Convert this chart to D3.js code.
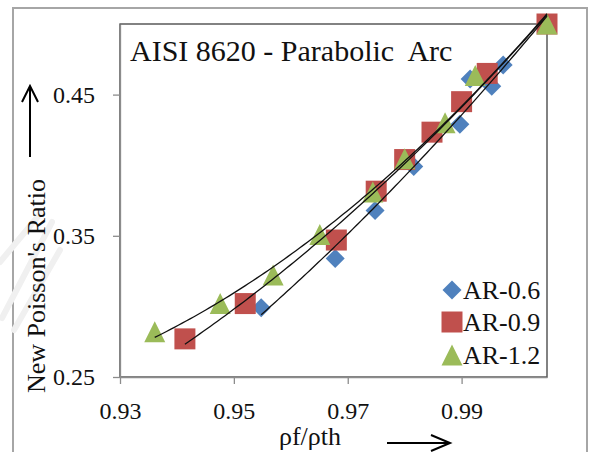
<!DOCTYPE html>
<html>
<head>
<meta charset="utf-8">
<script src="https://cdn.jsdelivr.net/npm/d3@7"></script>
<style>
  html, body { margin: 0; padding: 0; background: #fff; }
  svg { display: block; }
</style>
</head>
<body>
<svg id="chart" width="589" height="452"></svg>
<script>
// Relative density (ρf/ρth) vs new Poisson's ratio, three aspect ratios
const seriesNames = ["AR-0.6", "AR-0.9", "AR-1.2"];
const ar06X = [0.9548, 0.9678, 0.9748, 0.9816, 0.9897, 0.9915, 0.9953, 0.9973, 1.005];
const ar06Y = [0.299, 0.334, 0.368, 0.399, 0.429, 0.461, 0.456, 0.471, 0.500];
const ar09X = [0.9414, 0.952, 0.968, 0.975, 0.980, 0.9848, 0.990, 0.9945, 1.005];
const ar09Y = [0.277, 0.302, 0.347, 0.3816, 0.404, 0.4234, 0.445, 0.465, 0.500];
const ar12X = [0.9361, 0.9476, 0.9569, 0.9651, 0.9744, 0.980, 0.9871, 0.9924, 1.005];
const ar12Y = [0.282, 0.302, 0.3223, 0.351, 0.381, 0.4046, 0.430, 0.4635, 0.500];
const xTicks = [0.93, 0.95, 0.97, 0.99];
const yTicks = [0.25, 0.35, 0.45];
const colors = ["#4F81BD", "#C0504D", "#9BBB59"];
const shapes = ["diamond", "square", "triangle"];

const FONT = "Liberation Serif, Tinos, Noto Serif, DejaVu Serif, Times New Roman, Times, serif";
const svg = d3.select("#chart");
const plot = { left: 120, right: 547, top: 24, bottom: 377 };

const x = d3.scaleLinear().domain([0.93, 1.005]).range([plot.left, plot.right]);
const y = d3.scaleLinear().domain([0.25, 0.50]).range([plot.bottom, plot.top]);

// outer chart frame
svg.append("rect")
  .attr("x", 13).attr("y", 8).attr("width", 574).attr("height", 470)
  .attr("fill", "#fff").attr("stroke", "#a6a6a6").attr("stroke-width", 2);

// faint background mark on the left margin
svg.append("path")
  .attr("d", "M2,318L52,222M14,330L60,250M0,262L40,214")
  .attr("fill", "none").attr("stroke", "#f0f0f0").attr("stroke-width", 6)
  .attr("stroke-linecap", "round");

// plot area border
svg.append("rect")
  .attr("x", plot.left).attr("y", plot.top)
  .attr("width", plot.right - plot.left).attr("height", plot.bottom - plot.top)
  .attr("fill", "#fff").attr("stroke", "#404040").attr("stroke-width", 1.3);

// axes
const axisColor = "#8c8c8c";
const yAxis = svg.append("g")
  .attr("transform", `translate(${plot.left},0)`)
  .call(d3.axisLeft(y).tickValues(yTicks).tickFormat(d3.format(".2f"))
    .tickSize(7).tickSizeOuter(0).tickPadding(18));
const xAxis = svg.append("g")
  .attr("transform", `translate(0,${plot.bottom})`)
  .call(d3.axisBottom(x).tickValues(xTicks).tickFormat(d3.format(".2f"))
    .tickSize(7).tickSizeOuter(0).tickPadding(18));
[yAxis, xAxis].forEach(g => {
  g.attr("font-family", FONT).attr("font-size", 24);
  g.select(".domain").attr("stroke", axisColor).attr("stroke-width", 1.3);
  g.selectAll(".tick line").attr("stroke", axisColor).attr("stroke-width", 1.3);
  g.selectAll(".tick text").attr("fill", "#111");
});

// quadratic least-squares trendline
function quadFit(xs, ys) {
  const n = xs.length;
  const s = [0, 0, 0, 0, 0], t = [0, 0, 0];
  for (let i = 0; i < n; i++) {
    const xv = xs[i];
    for (let k = 0; k <= 4; k++) s[k] += Math.pow(xv, k);
    for (let k = 0; k <= 2; k++) t[k] += ys[i] * Math.pow(xv, k);
  }
  const A = [[s[0], s[1], s[2], t[0]], [s[1], s[2], s[3], t[1]], [s[2], s[3], s[4], t[2]]];
  for (let c = 0; c < 3; c++) {
    let p = c;
    for (let r = c + 1; r < 3; r++) if (Math.abs(A[r][c]) > Math.abs(A[p][c])) p = r;
    [A[c], A[p]] = [A[p], A[c]];
    for (let r = 0; r < 3; r++) {
      if (r === c) continue;
      const f = A[r][c] / A[c][c];
      for (let k = c; k < 4; k++) A[r][k] -= f * A[c][k];
    }
  }
  const coef = [A[0][3] / A[0][0], A[1][3] / A[1][1], A[2][3] / A[2][2]];
  return v => coef[0] + coef[1] * v + coef[2] * v * v;
}

const data = [
  { xs: ar06X, ys: ar06Y },
  { xs: ar09X, ys: ar09Y },
  { xs: ar12X, ys: ar12Y }
];

// marker paths centered on the data point
function markerPath(shape) {
  if (shape === "diamond") { const r = 9.5; return `M0,${-r}L${r},0L0,${r}L${-r},0Z`; }
  if (shape === "square") { const h = 10.5; return `M${-h},${-h}H${h}V${h}H${-h}Z`; }
  const w = 10.5, h = 10.5; return `M0,${-h}L${w},${h}L${-w},${h}Z`;
}

data.forEach((s, i) => {
  svg.append("g").selectAll("path")
    .data(s.xs.map((v, j) => [v, s.ys[j]]))
    .join("path")
    .attr("d", markerPath(shapes[i]))
    .attr("transform", d => `translate(${x(d[0])},${y(d[1])})`)
    .attr("fill", colors[i]);
});

// trendlines over the markers
const line = d3.line().x(d => x(d[0])).y(d => y(d[1]));
data.forEach(s => {
  const f = quadFit(s.xs, s.ys);
  const [lo, hi] = d3.extent(s.xs);
  const pts = d3.range(0, 101).map(i => {
    const v = lo + (hi - lo) * i / 100;
    return [v, f(v)];
  });
  svg.append("path").attr("d", line(pts))
    .attr("fill", "none").attr("stroke", "#111").attr("stroke-width", 1.3);
});

// title
svg.append("text").attr("x", 130).attr("y", 61)
  .attr("font-family", FONT).attr("font-size", 30).attr("fill", "#111")
  .attr("xml:space", "preserve")
  .text("AISI 8620 - Parabolic  Arc");

// legend
const legendRows = [290, 322, 355];
seriesNames.forEach((name, i) => {
  svg.append("path").attr("d", markerPath(shapes[i]))
    .attr("transform", `translate(452,${legendRows[i]})`)
    .attr("fill", colors[i]);
  svg.append("text").attr("x", 463).attr("y", legendRows[i] + 9)
    .attr("font-family", FONT).attr("font-size", 26).attr("fill", "#111").text(name);
});

// axis titles with direction arrows
svg.append("text").attr("x", 310).attr("y", 445).attr("text-anchor", "middle")
  .attr("font-family", FONT).attr("font-size", 26).attr("fill", "#111").text("ρf/ρth");
svg.append("path").attr("d", "M387,443H450M431,435L450,443L431,451")
  .attr("fill", "none").attr("stroke", "#000").attr("stroke-width", 2);

svg.append("text").attr("transform", "translate(45,286) rotate(-90)")
  .attr("text-anchor", "middle")
  .attr("font-family", FONT).attr("font-size", 26).attr("fill", "#111").text("New Poisson's Ratio");
svg.append("path").attr("d", "M30,157V86M22,102L30,86L38,102")
  .attr("fill", "none").attr("stroke", "#000").attr("stroke-width", 2);
</script>
</body>
</html>
